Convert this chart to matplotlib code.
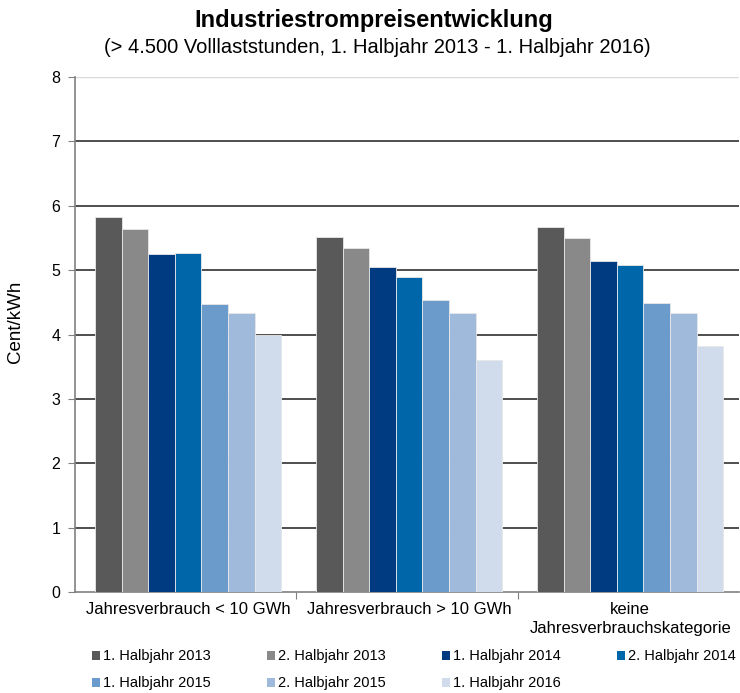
import matplotlib
matplotlib.use("Agg")
import matplotlib.pyplot as plt
import numpy as np

plt.rcParams['font.family'] = ['Liberation Sans', 'DejaVu Sans']

categories = ["Jahresverbrauch < 10 GWh", "Jahresverbrauch > 10 GWh",
              "keine\nJahresverbrauchskategorie"]
series = ["1. Halbjahr 2013", "2. Halbjahr 2013", "1. Halbjahr 2014",
          "2. Halbjahr 2014", "1. Halbjahr 2015", "2. Halbjahr 2015",
          "1. Halbjahr 2016"]
h1_2013 = [5.82, 5.51, 5.67]
h2_2013 = [5.64, 5.34, 5.50]
h1_2014 = [5.25, 5.05, 5.14]
h2_2014 = [5.27, 4.89, 5.08]
h1_2015 = [4.47, 4.53, 4.49]
h2_2015 = [4.33, 4.33, 4.33]
h1_2016 = [3.99, 3.60, 3.82]
values = [h1_2013, h2_2013, h1_2014, h2_2014, h1_2015, h2_2015, h1_2016]
colors = ["#595959", "#898989", "#003A80", "#0066AA", "#6A9BCB", "#9FBADB", "#D0DCEC"]
yticks = [0, 1, 2, 3, 4, 5, 6, 7, 8]

fig = plt.figure(figsize=(7.4, 6.93), dpi=100)
ax = fig.add_axes([0.102, 0.1457, 0.896, 0.7432])

x = np.arange(len(categories))
n = len(series)
bw = 0.12
handles = []
for i, (vals, c, lab) in enumerate(zip(values, colors, series)):
    pos = x + (i - (n - 1) / 2) * bw + 0.01
    b = ax.bar(pos, vals, width=bw, color=c, edgecolor="#E8E8E8", linewidth=0.6,
               label=lab, zorder=3)
    handles.append(b)

ax.set_xlim(-0.5, 2.5)
ax.set_ylim(0, 8)
ax.set_yticks(yticks)
ax.set_yticklabels([str(t) for t in yticks], fontsize=11.5)
for t in yticks[1:]:
    col = "#D9D9D9" if t == 8 else "#404040"
    ax.axhline(t, color=col, linewidth=1.3 if t != 8 else 1.0, zorder=1)

ax.set_xticks([0.5, 1.5])
ax.set_xticklabels([])
ax.tick_params(axis='x', length=5, color="#808080", direction='out')
ax.tick_params(axis='y', length=5, color="#808080", direction='out', pad=6)
for i, cat in enumerate(categories):
    ax.text(i + 0.01, -0.15, cat, ha='center', va='top', fontsize=12,
            transform=ax.transData, linespacing=1.35)

for s in ['top', 'right']:
    ax.spines[s].set_visible(False)
for s in ['left', 'bottom']:
    ax.spines[s].set_color("#808080")
    ax.spines[s].set_linewidth(1.2)

ax.set_ylabel("Cent/kWh", fontsize=13.5)
ax.yaxis.set_label_coords(-0.077, 0.525)

fig.text(0.505, 0.971, "Industriestrompreisentwicklung", ha='center', va='center',
         fontsize=17, fontweight='bold')
fig.text(0.510, 0.932, "(> 4.500 Volllaststunden, 1. Halbjahr 2013 - 1. Halbjahr 2016)",
         ha='center', va='center', fontsize=14.5)

order = [0, 4, 1, 5, 2, 6, 3]
leg = fig.legend(handles=[handles[k] for k in order], labels=[series[k] for k in order],
                 ncol=4, loc='lower left',
                 bbox_to_anchor=(0.111, -0.011), frameon=False, fontsize=10.5,
                 handlelength=0.55, handleheight=0.55, handletextpad=0.2,
                 columnspacing=3.85, labelspacing=0.9, borderaxespad=0.3)
for p in leg.get_patches():
    p.set_edgecolor('none')

fig.savefig("out.png", dpi=100)
